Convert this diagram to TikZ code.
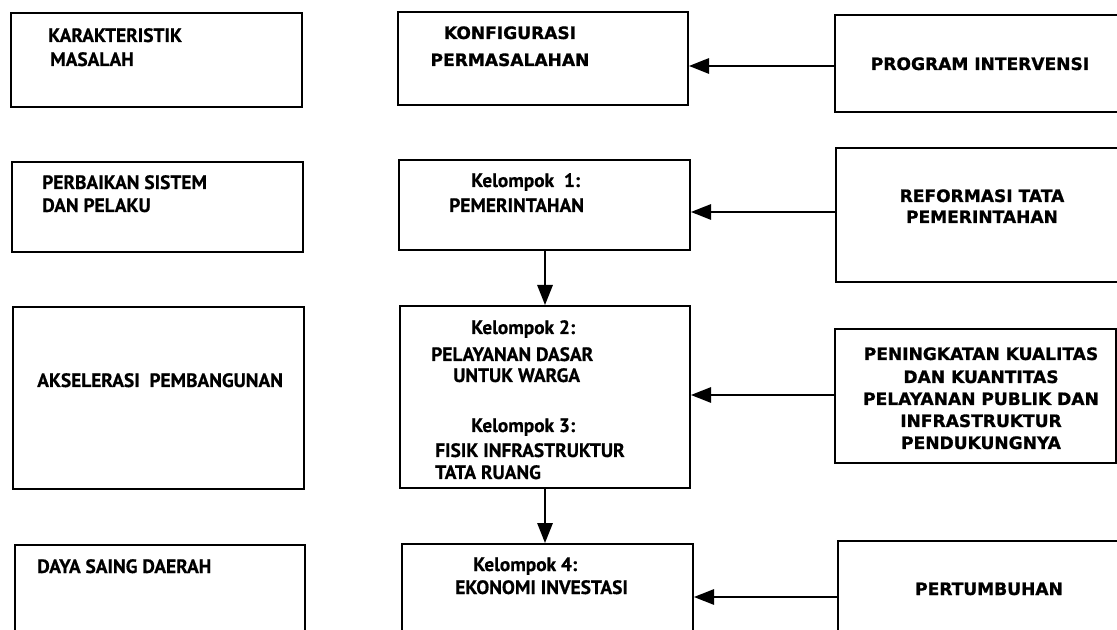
\documentclass[tikz,border=0pt]{standalone}
\usepackage{fontspec}
\setmainfont{PT Sans}[BoldFeatures={FakeBold=0.6}]
\newfontfamily\heavyfont{DejaVu Sans}[BoldFeatures={FakeBold=1.0}]
\usetikzlibrary{arrows.meta,fit}
\begin{document}
\begin{tikzpicture}[x=0.75pt,y=-0.75pt,
  box/.style={draw, line width=1.5pt, inner sep=0pt, rectangle},
  hbox/.style={draw, line width=2.1pt, inner sep=0pt, rectangle},
  lt/.style={anchor=base west, inner sep=0pt, font=\fontsize{14.5}{17}\selectfont\bfseries},
  ct/.style={anchor=base, inner sep=0pt, font=\fontsize{12.8}{16}\heavyfont\bfseries},
  arr/.style={line width=1.5pt, -{Triangle[length=15pt,width=11.5pt]}},
]
\useasboundingbox (0,0) rectangle (1117,630);
\fill[white] (0,0) rectangle (1117,630);
\clip (0,0) rectangle (1117,630);

% left column
\node[box, fit={(11,13) (302,107)}] (ka) {};
\node[box, fit={(12,162) (303,252)}] (pb) {};
\node[box, fit={(13,307) (304,489)}] (ak) {};
\node[box, fit={(15,545) (305,660)}] (ds) {};
% middle column
\node[box, fit={(398,12) (688,105)}] (kf) {};
\node[box, fit={(399,160) (690,250)}] (k1) {};
\node[box, fit={(400,306) (690,488)}] (k23) {};
\node[box, fit={(402,544) (693,660)}] (k4) {};
% right column
\node[hbox, fit={(835,15) (1125,112)}] (pi) {};
\node[hbox, fit={(836,148) (1125,282)}] (rf) {};
\node[hbox, fit={(835,329) (1116,463)}] (pk) {};
\node[box, fit={(838,541) (1125,660)}] (pt) {};

% texts left
\node[lt] (t1) at (48,42) {KARAKTERISTIK};
\node[lt] (t2) at (50,66) {MASALAH};
\node[lt] (t3) at (42,189) {PERBAIKAN SISTEM};
\node[lt] (t4) at (42,212) {DAN PELAKU};
\node[lt] (t5) at (37,387) {AKSELERASI\ \ PEMBANGUNAN};
\node[lt] (t6) at (37,573) {DAYA SAING DAERAH};
% texts middle
\node[ct] (m1) at (510,39) {KONFIGURASI};
\node[ct] (m2) at (510,66) {PERMASALAHAN};
\node[lt] (m3) at (471,187) {Kelompok\ \ 1:};
\node[lt] (m4) at (449,212) {PEMERINTAHAN};
\node[lt] (m5) at (471,334) {Kelompok 2:};
\node[lt] (m6) at (431,361) {PELAYANAN DASAR};
\node[lt] (m7) at (453,382) {UNTUK WARGA};
\node[lt] (m8) at (471,432) {Kelompok 3:};
\node[lt] (m9) at (435,457) {FISIK INFRASTRUKTUR};
\node[lt] (m10) at (435,479) {TATA RUANG};
\node[lt] (m11) at (473,571) {Kelompok 4:};
\node[lt] (m12) at (455,594) {EKONOMI INVESTASI};
% texts right
\node[ct] (r1) at (980,70) {PROGRAM INTERVENSI};
\node[ct] (r2) at (982,202) {REFORMASI TATA};
\node[ct] (r3) at (982,223) {PEMERINTAHAN};
\node[ct] (r4) at (981,360) {PENINGKATAN KUALITAS};
\node[ct] (r5) at (981,383) {DAN KUANTITAS};
\node[ct] (r6) at (981,405) {PELAYANAN PUBLIK DAN};
\node[ct] (r7) at (981,427) {INFRASTRUKTUR};
\node[ct] (r8) at (981,449) {PENDUKUNGNYA};
\node[ct] (r9) at (989,595) {PERTUMBUHAN};

% connectors
\coordinate (y1) at (0,66);
\coordinate (y2) at (0,212);
\coordinate (y3) at (0,395);
\coordinate (y4) at (0,597);
\coordinate (vx) at (545,0);
\draw[arr] (pi.west |- y1) -- (kf.east |- y1);
\draw[arr] (rf.west |- y2) -- (k1.east |- y2);
\draw[arr] (pk.west |- y3) -- (k23.east |- y3);
\draw[arr] (pt.west |- y4) -- (k4.east |- y4);
\draw[arr] (k1.south -| vx) -- (k23.north -| vx);
\draw[arr] (k23.south -| vx) -- (k4.north -| vx);
\end{tikzpicture}
\end{document}
